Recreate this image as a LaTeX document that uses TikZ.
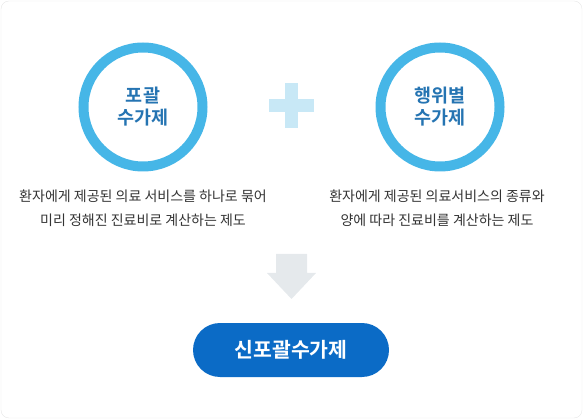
\documentclass[tikz,border=0pt]{standalone}
\usepackage{fontspec}
\setmainfont{Noto Sans CJK KR}[BoldFont={Noto Sans CJK KR Bold}]
\usepackage{tikz}
\definecolor{ringblue}{HTML}{46B6E7}
\definecolor{plusblue}{HTML}{C8E8F6}
\definecolor{titleblue}{HTML}{2574B2}
\definecolor{btnblue}{HTML}{0B6BC6}
\definecolor{arrowgray}{HTML}{E5E9EC}
\definecolor{textgray}{HTML}{333333}
\definecolor{framegray}{HTML}{E6E6E6}
\tikzset{desc/.style={align=center, font=\fontsize{14}{24}\selectfont,
  text=textgray, inner sep=0pt}}

\begin{document}
\begin{tikzpicture}[x=1pt, y=-1pt,
  ring/.style={circle, draw=ringblue, line width=10pt, minimum size=119pt,
    inner sep=0pt, align=center, text=titleblue,
    font=\bfseries\fontsize{18.5}{22}\selectfont},
  btn/.style={rectangle, rounded corners=27pt, fill=btnblue, text=white,
    minimum width=196pt, minimum height=54pt,
    font=\bfseries\fontsize{20.5}{22}\selectfont}]
  \useasboundingbox (0,0) rectangle (583,419);
  \draw[framegray, rounded corners=8pt] (1,1) rectangle (582,418);
  % the two circles and the plus
  \node[ring] (pkg) at (143, 107) {포괄\\수가제};
  \node[ring] (act) at (440, 107) {행위별\\수가제};
  \fill[plusblue] (285, 83) rectangle (298, 128);
  \fill[plusblue] (269, 99) rectangle (314, 112);
  % descriptions
  \node[desc] (pkgtxt) at (143, 208)
    {환자에게 제공된 의료 서비스를 하나로 묶어\\미리 정해진 진료비로 계산하는 제도};
  \node[desc] (acttxt) at (437, 208)
    {환자에게 제공된 의료서비스의 종류와\\양에 따라 진료비를 계산하는 제도};
  % down arrow and result
  \fill[arrowgray] (276, 254) -- (307, 254) -- (307, 273) -- (316, 273)
    -- (291.5, 299) -- (267, 273) -- (276, 273) -- cycle;
  \node[btn] (new) at (291, 350) {신포괄수가제};
\end{tikzpicture}
\end{document}
